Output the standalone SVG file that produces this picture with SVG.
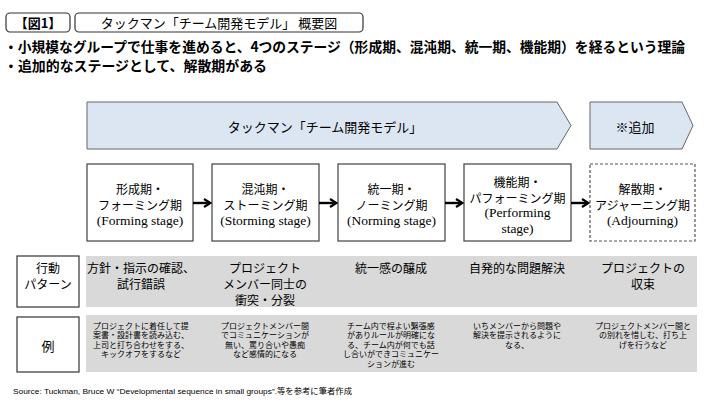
<svg xmlns="http://www.w3.org/2000/svg" width="720" height="405" viewBox="0 0 720 405">
<defs>
<style>
.jp{font-family:"Noto Sans CJK JP","Liberation Sans",sans-serif;fill:#000}
.en{font-family:"Liberation Serif","Noto Sans CJK JP",serif;fill:#000}
.c{text-anchor:middle;dominant-baseline:central}
.l{dominant-baseline:central}
.b{font-weight:bold}
.hbox{fill:#fff;stroke:#333;stroke-width:1.2}
.chev{fill:#dce6f2;stroke:#666;stroke-width:1}
.stage{fill:#fff;stroke:#404040;stroke-width:1.2}
.dash{fill:#fff;stroke:#555;stroke-width:1.2;stroke-dasharray:3 2}
.band{fill:#d9d9d9}
.lab{fill:#fff;stroke:#333;stroke-width:1.2}
.st{font-size:12px}
.se{font-size:13.5px}
.r1{font-size:12px}
.ex{font-size:8px}
.conn{stroke:#000;stroke-width:2.4;fill:none}
</style>
<marker id="ah" viewBox="0 0 10 10" refX="8" refY="5" markerWidth="10" markerHeight="10" orient="auto" markerUnits="userSpaceOnUse">
<path d="M2,1 L8.5,5 L2,9" fill="none" stroke="#000" stroke-width="2.2"/>
</marker>
</defs>
<rect width="720" height="405" fill="#fff"/>

<g id="header">
<rect class="hbox" x="6" y="13" width="64" height="19" rx="4"/>
<text class="jp c b" x="38" y="22.5" font-size="13">【図1】</text>
<rect class="hbox" x="75" y="13" width="288" height="19" rx="4"/>
<text class="jp c" x="219" y="22.5" font-size="13">タックマン「チーム開発モデル」 概要図</text>
<text class="jp l b" x="4" y="46" font-size="14" textLength="681" lengthAdjust="spacingAndGlyphs">・小規模なグループで仕事を進めると、4つのステージ（形成期、混沌期、統一期、機能期）を経るという理論</text>
<text class="jp l b" x="4" y="65" font-size="14" textLength="263" lengthAdjust="spacingAndGlyphs">・追加的なステージとして、解散期がある</text>
</g>

<g id="phase-main">
<path class="chev" d="M87,102 L557,102 L571,125.5 L557,149 L87,149 Z"/>
<text class="jp c" x="325" y="126" font-size="13">タックマン「チーム開発モデル」</text>
</g>
<g id="phase-add">
<path class="chev" d="M590,102 L682,102 L693,125.5 L682,149 L590,149 Z"/>
<text class="jp c" x="635" y="126" font-size="13">※追加</text>
</g>

<g id="stage-forming">
<rect class="stage" x="87" y="164" width="106" height="77"/>
<text class="jp c st" x="140" y="188">形成期・</text>
<text class="jp c st" x="140" y="204">フォーミング期</text>
<text class="en c se" x="140" y="220">(Forming stage)</text>
</g>
<g id="stage-storming">
<rect class="stage" x="212" y="164" width="107" height="77"/>
<text class="jp c st" x="265.5" y="188">混沌期・</text>
<text class="jp c st" x="265.5" y="204">ストーミング期</text>
<text class="en c se" x="265.5" y="220">(Storming stage)</text>
</g>
<g id="stage-norming">
<rect class="stage" x="338" y="164" width="107" height="77"/>
<text class="jp c st" x="391.5" y="188">統一期・</text>
<text class="jp c st" x="391.5" y="204">ノーミング期</text>
<text class="en c se" x="391.5" y="220">(Norming stage)</text>
</g>
<g id="stage-performing">
<rect class="stage" x="464" y="164" width="107" height="77"/>
<text class="jp c st" x="517.5" y="181">機能期・</text>
<text class="jp c st" x="517.5" y="197">パフォーミング期</text>
<text class="en c se" x="517.5" y="212.5">(Performing</text>
<text class="en c se" x="517.5" y="228">stage)</text>
</g>
<g id="stage-adjourning">
<rect class="dash" x="590" y="164" width="105" height="77"/>
<text class="jp c st" x="642.5" y="188">解散期・</text>
<text class="jp c st" x="642.5" y="204">アジャーニング期</text>
<text class="en c se" x="642.5" y="220">(Adjourning)</text>
</g>

<g id="connectors">
<line class="conn" x1="193" y1="203" x2="210" y2="203" marker-end="url(#ah)"/>
<line class="conn" x1="319" y1="203" x2="336" y2="203" marker-end="url(#ah)"/>
<line class="conn" x1="445" y1="203" x2="462" y2="203" marker-end="url(#ah)"/>
<line class="conn" x1="571" y1="203" x2="588" y2="203" marker-end="url(#ah)"/>
</g>

<g id="row-behavior">
<rect class="lab" x="17" y="256" width="62" height="51"/>
<text class="jp c" x="48" y="267" font-size="12">行動</text>
<text class="jp c" x="48" y="283" font-size="12">パターン</text>
<rect class="band" x="86" y="256" width="611" height="51"/>
<text class="jp c r1" x="141" y="267">方針・指示の確認、</text>
<text class="jp c r1" x="141" y="283">試行錯誤</text>
<text class="jp c r1" x="265" y="267">プロジェクト</text>
<text class="jp c r1" x="265" y="283">メンバー同士の</text>
<text class="jp c r1" x="265" y="299">衝突・分裂</text>
<text class="jp c r1" x="391" y="267">統一感の醸成</text>
<text class="jp c r1" x="517" y="267">自発的な問題解決</text>
<text class="jp c r1" x="643" y="267">プロジェクトの</text>
<text class="jp c r1" x="643" y="283">収束</text>
</g>

<g id="row-example">
<rect class="lab" x="17" y="317" width="62" height="55"/>
<text class="jp c" x="48" y="345" font-size="13">例</text>
<rect class="band" x="86" y="315" width="611" height="57"/>
<text class="jp c ex" x="141" y="325">プロジェクトに着任して提</text>
<text class="jp c ex" x="141" y="334.5">案書・設計書を読み込む、</text>
<text class="jp c ex" x="141" y="344">上司と打ち合わせをする、</text>
<text class="jp c ex" x="141" y="353.5">キックオフをするなど</text>
<text class="jp c ex" x="265" y="325">プロジェクトメンバー間</text>
<text class="jp c ex" x="265" y="334.5">でコミュニケーションが</text>
<text class="jp c ex" x="265" y="344">無い、罵り合いや愚痴</text>
<text class="jp c ex" x="265" y="353.5">など感情的になる</text>
<text class="jp c ex" x="391" y="325">チーム内で程よい緊張感</text>
<text class="jp c ex" x="391" y="334.5">がありルールが明確にな</text>
<text class="jp c ex" x="391" y="344">る、チーム内が何でも話</text>
<text class="jp c ex" x="391" y="353.5">し合いができコミュニケー</text>
<text class="jp c ex" x="391" y="363">ションが進む</text>
<text class="jp c ex" x="517" y="325">いちメンバーから問題や</text>
<text class="jp c ex" x="517" y="334.5">解決を提示されるように</text>
<text class="jp c ex" x="517" y="344">なる、</text>
<text class="jp c ex" x="643" y="325">プロジェクトメンバー間と</text>
<text class="jp c ex" x="643" y="334.5">の別れを惜しむ、打ち上</text>
<text class="jp c ex" x="643" y="344">げを行うなど</text>
</g>

<text class="jp l" x="13" y="391" font-size="8" textLength="339" lengthAdjust="spacingAndGlyphs" style="font-family:'Liberation Sans','Noto Sans CJK JP',sans-serif">Source: Tuckman, Bruce W  “Developmental sequence in small groups”.等を参考に筆者作成</text>
</svg>
